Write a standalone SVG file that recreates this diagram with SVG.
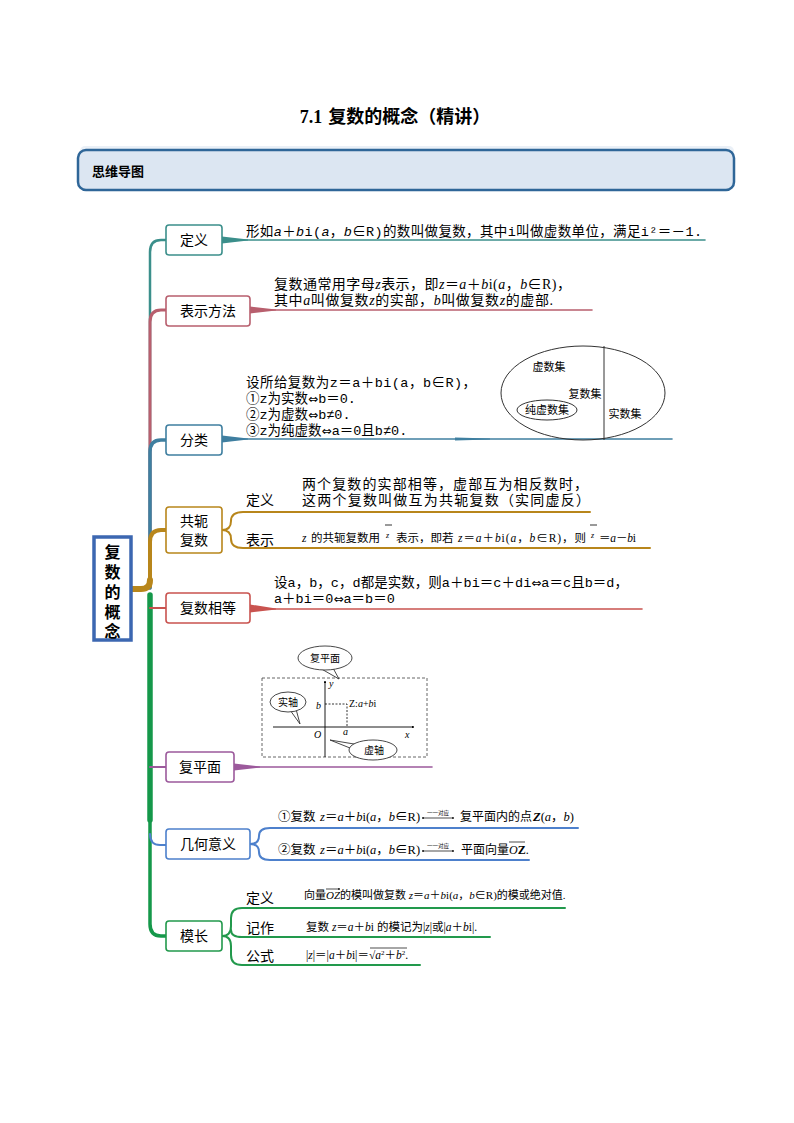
<svg xmlns="http://www.w3.org/2000/svg" width="794" height="1123" viewBox="0 0 794 1123">
<defs>
<style>
text { font-family: "Liberation Serif", "Noto Sans CJK SC", serif; fill: #000; }
.cj { font-family: "Noto Sans CJK SC", sans-serif; }
.m { font-family: "Liberation Mono", "Noto Sans CJK SC", monospace; font-size: 13.5px; }
.ar { font-family: "DejaVu Sans", sans-serif; font-size: 12px; }
.lbl { font-family: "Noto Sans CJK SC", sans-serif; font-size: 14px; text-anchor: middle; }
.box { fill: #fff; stroke-width: 1.6; }
.t11 { font-size: 11px; }
.fig { font-size: 10px; }
.i { font-style: italic; }
.ln { fill: none; stroke-linecap: round; }
</style>
<marker id="sm" viewBox="0 0 6 6" refX="5" refY="3" markerWidth="3" markerHeight="3" orient="auto-start-reverse"><path d="M0 0 L6 3 L0 6 Z" fill="#000"/></marker>
</defs>
<rect width="794" height="1123" fill="#fff"/>

<!-- title -->
<text x="395" y="123" text-anchor="middle" font-size="18" font-weight="bold">7.1<tspan dx="6">复数的概念（精讲）</tspan></text>

<!-- header -->
<rect x="80" y="146" width="654" height="10" rx="5" fill="#eaf0f7"/>
<rect x="78" y="150" width="656" height="40" rx="8" fill="#dce6f2" stroke="#2f6698" stroke-width="2.5"/>
<text x="92" y="176" class="cj" font-size="13" font-weight="bold">思维导图</text>

<!-- connectors -->
<g id="connectors" class="ln">
  <path d="M150 588 V252 Q150 240 161 240 H166" stroke="#3b8f8b" stroke-width="2.5"/>
  <path d="M150 588 V322 Q150 310 161 310 H166" stroke="#b85f6e" stroke-width="3"/>
  <path d="M150 588 V452 Q150 440 161 440 H166" stroke="#3f7fa0" stroke-width="3.5"/>
  <path d="M150 586 V542 Q150 530 161 530 H166" stroke="#b8861b" stroke-width="4"/>
  <path d="M131 589 H141 Q150 589 150 580" stroke="#b8861b" stroke-width="6"/>
  <path d="M150 595 V820" stroke="#15984a" stroke-width="5.5"/>
  <path d="M150 815 V924 Q150 936 161 936 H166" stroke="#15984a" stroke-width="3.5"/>
  <path d="M150 608 H166" stroke="#c9534f" stroke-width="2"/>
  <path d="M150 767 H166" stroke="#9c5a9c" stroke-width="2"/>
  <path d="M150 834 Q150 845 160 845 H166" stroke="#4d80cc" stroke-width="2"/>

  <!-- trailing lines -->
  <polygon points="222,236.5 248,239.4 248,240.6 222,243.5" fill="#3b8f8b" stroke="none"/>
  <path d="M222 240 H705" stroke="#3b8f8b" stroke-width="1.6"/>
  <polygon points="250,306.5 276,309.4 276,310.6 250,313.5" fill="#b85f6e" stroke="none"/>
  <path d="M250 310 H592" stroke="#b85f6e" stroke-width="1.6"/>
  <polygon points="222,435.5 248,438.4 248,439.6 222,442.5" fill="#3f7fa0" stroke="none"/>
  <polygon points="455,437.5 490,438.6 490,439.4 455,440.5" fill="#3f7fa0" stroke="none"/>
  <path d="M222 439 H672" stroke="#3f7fa0" stroke-width="1.6"/>
  <polygon points="250,604.5 276,608.4 276,609.6 250,612.5" fill="#c9534f" stroke="none"/>
  <path d="M250 609 H642" stroke="#c9534f" stroke-width="1.6"/>
  <polygon points="234,763.5 260,766.4 260,767.6 234,770.5" fill="#9c5a9c" stroke="none"/>
  <path d="M234 767 H432" stroke="#9c5a9c" stroke-width="1.6"/>

  <!-- 共轭 brace -->
  <path d="M222 530 Q231 530 231 521 Q231 512 243 512 H590" stroke="#b8861b" stroke-width="2"/>
  <path d="M222 530 Q231 530 231 539 Q231 548 243 548 H650" stroke="#b8861b" stroke-width="2"/>
  <!-- 几何意义 brace -->
  <path d="M250 844 Q259 844 259 836 Q259 828 270 828 H578" stroke="#4d80cc" stroke-width="2"/>
  <path d="M250 844 Q259 844 259 852 Q259 860 270 860 H529" stroke="#4d80cc" stroke-width="2"/>
  <!-- 模长 brace -->
  <path d="M222 936 Q231 936 231 926 V918 Q231 908 242 908 H565" stroke="#22994c" stroke-width="2"/>
  <path d="M231 930 Q231 937 242 937 H490" stroke="#22994c" stroke-width="2"/>
  <path d="M222 936 Q231 936 231 946 V955 Q231 965 242 965 H420" stroke="#22994c" stroke-width="2"/>
</g>

<!-- root -->
<g id="root">
  <rect x="94" y="537" width="37" height="103" fill="#fff" stroke="#3c67b1" stroke-width="3.5"/>
  <g class="cj" font-size="16" font-weight="bold" text-anchor="middle">
    <text x="112.5" y="558">复</text>
    <text x="112.5" y="578">数</text>
    <text x="112.5" y="598">的</text>
    <text x="112.5" y="618">概</text>
    <text x="112.5" y="637">念</text>
  </g>
</g>

<!-- 定义 -->
<g id="n-def">
  <rect class="box" x="166" y="225" width="56" height="30" rx="3" stroke="#3b8f8b"/>
  <text class="lbl" x="194" y="245">定义</text>
  <text class="m" x="246" y="236" textLength="456">形如<tspan class="i">a</tspan>＋<tspan class="i">b</tspan>i(<tspan class="i">a</tspan>，<tspan class="i">b</tspan>∈R)的数叫做复数，其中i叫做虚数单位，满足i²＝－1.</text>
</g>

<!-- 表示方法 -->
<g id="n-rep">
  <rect class="box" x="166" y="296" width="84" height="30" rx="3" stroke="#b85f6e"/>
  <text class="lbl" x="208" y="316">表示方法</text>
  <text font-size="14" x="274" y="289" textLength="297">复数通常用字母<tspan class="i">z</tspan>表示，即<tspan class="i">z</tspan>＝<tspan class="i">a</tspan>＋<tspan class="i">b</tspan>i(<tspan class="i">a</tspan>，<tspan class="i">b</tspan>∈R)，</text>
  <text font-size="14" x="274" y="305" textLength="279">其中<tspan class="i">a</tspan>叫做复数<tspan class="i">z</tspan>的实部，<tspan class="i">b</tspan>叫做复数<tspan class="i">z</tspan>的虚部.</text>
</g>

<!-- 分类 -->
<g id="n-cls">
  <rect class="box" x="166" y="425" width="56" height="30" rx="3" stroke="#3f7fa0"/>
  <text class="lbl" x="194" y="445">分类</text>
  <text class="m" x="246" y="387" textLength="230">设所给复数为z＝a＋bi(a，b∈R)，</text>
  <text class="m" x="246" y="403">①z为实数<tspan class="ar">⇔</tspan>b＝0.</text>
  <text class="m" x="246" y="419">②z为虚数<tspan class="ar">⇔</tspan>b≠0.</text>
  <text class="m" x="246" y="435">③z为纯虚数<tspan class="ar">⇔</tspan>a＝0且b≠0.</text>
  <g fill="none" stroke="#333" stroke-width="1">
    <ellipse cx="583" cy="393" rx="82" ry="47"/>
    <line x1="604" y1="346" x2="604" y2="440"/>
    <ellipse cx="547" cy="410" rx="30" ry="10"/>
  </g>
  <g class="t11" text-anchor="middle" fill="#222">
    <text x="549" y="371">虚数集</text>
    <text x="585" y="398">复数集</text>
    <text x="547" y="414">纯虚数集</text>
    <text x="625" y="418">实数集</text>
  </g>
</g>

<!-- 共轭复数 -->
<g id="n-conj">
  <rect class="box" x="166" y="507" width="56" height="46" rx="3" stroke="#b8861b"/>
  <text class="lbl" x="194" y="526">共轭</text>
  <text class="lbl" x="194" y="545">复数</text>
  <text class="cj" font-size="14" x="246" y="505">定义</text>
  <text class="cj" font-size="14" x="246" y="545">表示</text>
  <text font-size="14" x="302" y="489" textLength="286">两个复数的实部相等，虚部互为相反数时，</text>
  <text font-size="14" x="302" y="505" textLength="288">这两个复数叫做互为共轭复数（实同虚反）</text>
  <g font-size="11.5">
    <text x="302" y="542" class="i">z</text>
    <text x="311" y="542">的共轭复数用</text>
    <text x="386" y="538" font-size="8" class="i">z</text>
    <text x="396" y="542">表示，即若</text>
    <text x="458" y="542" textLength="128"><tspan class="i">z</tspan>＝<tspan class="i">a</tspan>＋<tspan class="i">b</tspan>i(<tspan class="i">a</tspan>，<tspan class="i">b</tspan>∈R)，则</text>
    <text x="591" y="538" font-size="8" class="i">z</text>
    <text x="599" y="542" textLength="37">＝<tspan class="i">a</tspan>－<tspan class="i">b</tspan>i</text>
  </g>
  <line x1="385" y1="525" x2="392" y2="525" stroke="#000" stroke-width="0.8"/>
  <line x1="590" y1="525" x2="597" y2="525" stroke="#000" stroke-width="0.8"/>
</g>

<!-- 复数相等 -->
<g id="n-eq">
  <rect class="box" x="166" y="593" width="84" height="30" rx="3" stroke="#c9534f"/>
  <text class="lbl" x="208" y="613">复数相等</text>
  <text class="m" x="274" y="587" textLength="354">设a，b，c，d都是实数，则a＋bi＝c＋di<tspan class="ar">⇔</tspan>a＝c且b＝d，</text>
  <text class="m" x="274" y="603">a＋bi＝0<tspan class="ar">⇔</tspan>a＝b＝0</text>
</g>

<!-- 复平面 -->
<g id="n-plane">
  <rect class="box" x="166" y="752" width="68" height="30" rx="3" stroke="#9c5a9c"/>
  <text class="lbl" x="200" y="772">复平面</text>
  <rect x="262" y="678" width="165" height="79" fill="none" stroke="#555" stroke-width="0.9" stroke-dasharray="3 2"/>
  <line x1="325" y1="757" x2="325" y2="681" stroke="#000" stroke-width="0.9" marker-end="url(#sm)"/>
  <line x1="273" y1="727" x2="414" y2="727" stroke="#000" stroke-width="0.9" marker-end="url(#sm)"/>
  <path d="M325 704 H347 V727" fill="none" stroke="#000" stroke-width="0.8" stroke-dasharray="2 1.5"/>
  <g class="fig">
    <text x="329" y="687" class="i">y</text>
    <text x="405" y="738" class="i">x</text>
    <text x="314" y="738" class="i">O</text>
    <text x="343" y="735" class="i">a</text>
    <text x="316" y="709" class="i">b</text>
    <text x="349" y="707">Z:<tspan class="i">a</tspan>+<tspan class="i">b</tspan>i</text>
  </g>
  <g fill="#fff" stroke="#333" stroke-width="0.9">
    <path d="M318 667 L339 679 L333 668"/>
    <ellipse cx="325" cy="658" rx="27" ry="12"/>
    <path d="M290 710 L300 724 L296 709"/>
    <ellipse cx="288" cy="702" rx="18" ry="10"/>
    <path d="M360 745 L330 740 L360 752"/>
    <ellipse cx="373" cy="750" rx="24" ry="10"/>
  </g>
  <g class="fig" text-anchor="middle">
    <text x="325" y="662">复平面</text>
    <text x="288" y="706">实轴</text>
    <text x="374" y="754">虚轴</text>
  </g>
</g>

<!-- 几何意义 -->
<g id="n-geo">
  <rect class="box" x="166" y="829" width="84" height="30" rx="3" stroke="#4d80cc"/>
  <text class="lbl" x="208" y="849">几何意义</text>
  <g font-size="12.5">
    <text x="278" y="821">①复数</text>
    <text x="320" y="821"><tspan class="i">z</tspan>＝<tspan class="i">a</tspan>＋<tspan class="i">b</tspan>i(<tspan class="i">a</tspan>，<tspan class="i">b</tspan>∈R)</text>
    <text x="460" y="821" font-size="12">复平面内的点</text>
    <text x="533" y="821"><tspan class="i" font-weight="bold">Z</tspan>(<tspan class="i">a</tspan>，<tspan class="i">b</tspan>)</text>
    <text x="278" y="854">②复数</text>
    <text x="320" y="854"><tspan class="i">z</tspan>＝<tspan class="i">a</tspan>＋<tspan class="i">b</tspan>i(<tspan class="i">a</tspan>，<tspan class="i">b</tspan>∈R)</text>
    <text x="461" y="854" font-size="12">平面向量<tspan class="i">O</tspan><tspan font-weight="bold">Z</tspan>.</text>
  </g>
  <g stroke="#000" stroke-width="0.7">
    <line x1="422" y1="818" x2="454" y2="818" marker-start="url(#sm)" marker-end="url(#sm)"/>
    <line x1="422" y1="851" x2="454" y2="851" marker-start="url(#sm)" marker-end="url(#sm)"/>
    <line x1="509" y1="842" x2="525" y2="842"/>
  </g>
  <g font-size="5.5" text-anchor="middle" class="cj">
    <text x="438" y="815">一一对应</text>
    <text x="438" y="848">一一对应</text>
  </g>
</g>

<!-- 模长 -->
<g id="n-mod">
  <rect class="box" x="166" y="921" width="56" height="30" rx="3" stroke="#22994c"/>
  <text class="lbl" x="194" y="941">模长</text>
  <text class="cj" font-size="14" x="246" y="903">定义</text>
  <text class="cj" font-size="14" x="246" y="933">记作</text>
  <text class="cj" font-size="14" x="246" y="961">公式</text>
  <g font-size="11.5">
    <text x="304" y="899" font-size="11">向量<tspan class="i">OZ</tspan>的模叫做复数 <tspan class="i">z</tspan>＝<tspan class="i">a</tspan>＋<tspan class="i">b</tspan>i(<tspan class="i">a</tspan>，<tspan class="i">b</tspan>∈R)的模或绝对值.</text>
    <text x="306" y="931">复数 <tspan class="i">z</tspan>＝<tspan class="i">a</tspan>＋<tspan class="i">b</tspan>i 的模记为|<tspan class="i">z</tspan>|或|<tspan class="i">a</tspan>＋<tspan class="i">b</tspan>i|.</text>
    <text x="306" y="959">|<tspan class="i">z</tspan>|＝|<tspan class="i">a</tspan>＋<tspan class="i">b</tspan>i|＝√<tspan class="i">a</tspan><tspan font-size="7" dy="-4">2</tspan><tspan dy="4">＋</tspan><tspan class="i">b</tspan><tspan font-size="7" dy="-4">2</tspan><tspan dy="4">.</tspan></text>
  </g>
  <g stroke="#000" stroke-width="0.7">
    <line x1="370" y1="948" x2="407" y2="948"/>
    <line x1="326" y1="889" x2="340" y2="889" marker-end="url(#sm)"/>
  </g>
</g>
</svg>
